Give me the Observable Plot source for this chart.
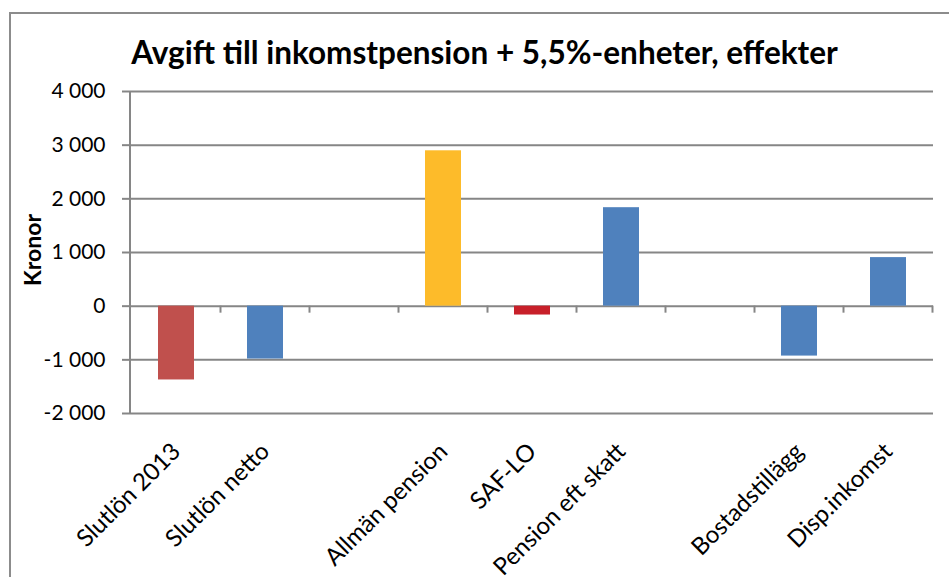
<!DOCTYPE html>
<html>
<head>
<meta charset="utf-8">
<script src="https://cdn.jsdelivr.net/npm/d3@7"></script>
<script src="https://cdn.jsdelivr.net/npm/@observablehq/plot@0.6"></script>
<style>
  html, body { margin: 0; padding: 0; background: #fff; }
  #wrap { position: relative; width: 949px; height: 577px; overflow: hidden; font-family: Lato, "Open Sans", sans-serif; }
  #frame { position: absolute; left: 9px; top: 12px; width: 1200px; height: 1200px; border: 2px solid #8c8c8c; box-sizing: border-box; }
  #title { position: absolute; left: 0; width: 969px; top: 37px; line-height: 31px; text-align: center; font-weight: 700; font-size: 31.5px; color: #000; }
  #ylabel { position: absolute; left: -68px; width: 200px; top: 236px; line-height: 28px; text-align: center; font-weight: 700; font-size: 23px; color: #000; transform: rotate(-90deg); }
  #chart { position: absolute; left: 0; top: 0; }
</style>
</head>
<body>
<div id="wrap">
  <div id="frame"></div>
  <div id="chart"></div>
  <div id="title">Avgift till inkomstpension + 5,5%-enheter, effekter</div>
  <div id="ylabel">Kronor</div>
</div>
<script>
// Categories along the x axis; blank slots keep the gaps between groups.
const categories = ["Slutlön 2013", "Slutlön netto", "", "Allmän pension", "SAF-LO", "Pension eft skatt", " ", "Bostadstillägg", "Disp.inkomst"];
// Effect in kronor for each category (null = empty slot).
const values = [-1375, -985, null, 2895, -165, 1835, null, -930, 905];
// Y axis ticks.
const yTicks = [-2000, -1000, 0, 1000, 2000, 3000, 4000];
// Bar fill per category.
const barColors = ["#C0504D", "#4F81BD", "#ffffff", "#FDBB2A", "#C8202A", "#4F81BD", "#ffffff", "#4F81BD", "#4F81BD"];

const data = categories.map((c, i) => ({category: c, value: values[i]})).filter(d => d.value != null);

const gridColor = "#868686";
const fmt = n => (n < 0 ? "-" : "") + d3.format(",")(Math.abs(n)).replace(/,/g, " ");

// Category boundary ticks on the zero line, plus the vertical value axis line.
function categoryAxis(index, scales, values, dimensions) {
  const x = scales.x, y = scales.y;
  const step = x(categories[1]) - x(categories[0]);
  const bw = typeof x.bandwidth === "function" ? x.bandwidth() : 0;
  const g = d3.create("svg:g").attr("stroke", gridColor).attr("stroke-width", 2);
  const y0 = y(0);
  const left = dimensions.marginLeft;
  g.append("line").attr("x1", left).attr("x2", left)
    .attr("y1", y(d3.max(yTicks))).attr("y2", y(d3.min(yTicks)));
  categories.forEach(c => {
    const bx = x(c) + bw / 2 + step / 2;
    g.append("line").attr("x1", bx).attr("x2", bx).attr("y1", y0).attr("y2", y0 + 7);
  });
  return g.node();
}

const chart = Plot.plot({
  width: 949,
  height: 577,
  marginTop: 91,
  marginBottom: 164,
  marginLeft: 130,
  marginRight: 16,
  style: {fontFamily: "Lato, 'Open Sans', sans-serif", fontSize: "21px", color: "#000", background: "transparent", overflow: "visible"},
  x: {domain: categories, paddingInner: 0.6, paddingOuter: 0.3, label: null},
  y: {domain: [-2000, 4000], label: null},
  color: {type: "ordinal", domain: categories, range: barColors},
  marks: [
    Plot.ruleY(yTicks, {y: d => d, stroke: gridColor, strokeWidth: 2}),
    Plot.axisY({ticks: yTicks, tickFormat: fmt, tickSize: 8, tickPadding: 17, stroke: gridColor, strokeWidth: 2, fontSize: 21, label: null}),
    Plot.barY(data, {x: "category", y: "value", fill: d => d.category}),
    categoryAxis,
    Plot.axisX({tickSize: 0, tickPadding: 34, tickRotate: -45, fontSize: 24, label: null})
  ]
});
document.getElementById("chart").appendChild(chart);
</script>
</body>
</html>
